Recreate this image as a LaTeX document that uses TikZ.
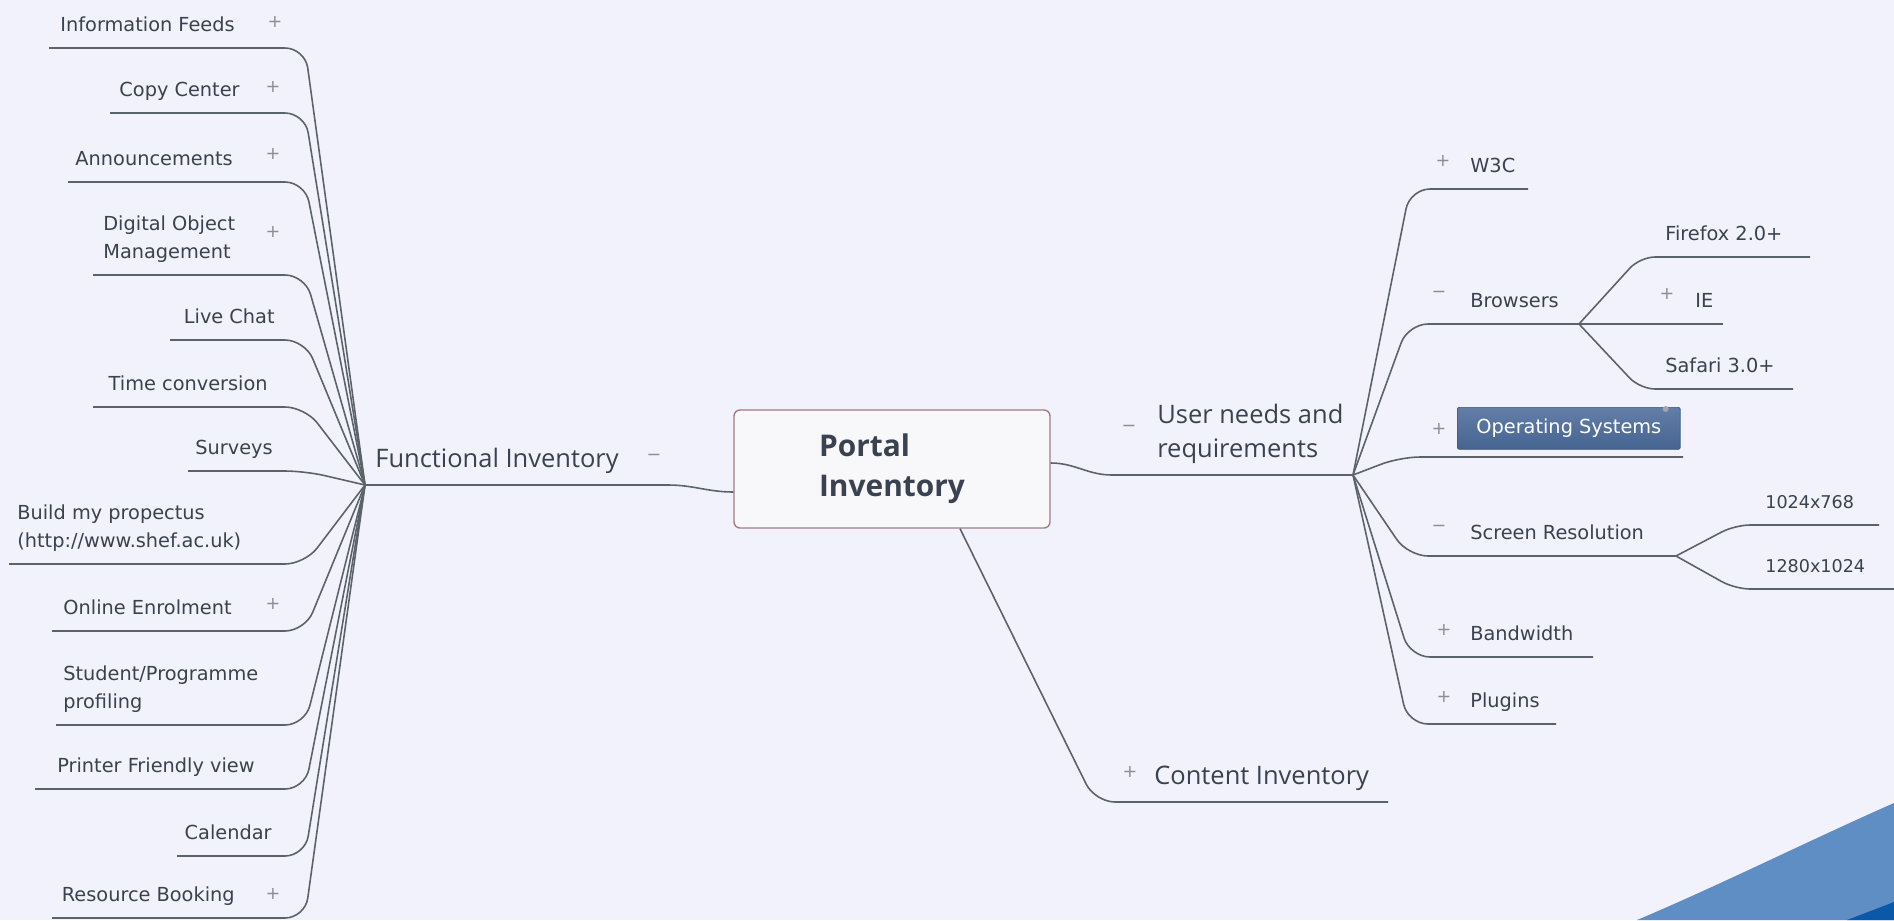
\documentclass[tikz,border=0pt]{standalone}
\usepackage{fontspec}
\setmainfont{DejaVu Sans}
\newfontfamily\headfont{Open Sans}
\usetikzlibrary{calc,shadings}
\definecolor{bgcol}{RGB}{241,242,251}
\definecolor{ink}{RGB}{58,65,80}
\definecolor{wire}{RGB}{92,98,106}
\definecolor{signcol}{RGB}{140,142,150}
\definecolor{corerim}{RGB}{160,124,132}
\definecolor{corefill}{RGB}{248,248,250}
\definecolor{osblue}{RGB}{70,100,145}
\definecolor{ostop}{RGB}{98,126,168}
\definecolor{swoosh}{RGB}{95,142,197}
\definecolor{swooshdark}{RGB}{10,88,168}
\begin{document}
\begin{tikzpicture}[x=0.02cm,y=-0.02cm,
    leaf/.style={font=\fontsize{11}{16}\selectfont,text=ink,inner sep=0pt,text depth=0.25em,align=left},
    small/.style={leaf,font=\fontsize{10}{14}\selectfont},
    head/.style={font=\headfont\fontsize{14.5}{19}\selectfont,text=ink,inner sep=0pt,text depth=0.25em,align=left},
    sign/.style={font=\fontsize{10}{10}\selectfont,text=signcol,inner sep=0pt},
    branch/.style={draw=wire,line width=0.9pt,rounded corners=0.4cm},
    core/.style={draw=corerim,line width=0.8pt,fill=corefill,rounded corners=0.12cm,minimum width=6.32cm,minimum height=2.36cm,align=left,font=\headfont\bfseries\fontsize{17}{23}\selectfont,text=ink},
    osbox/.style={top color=ostop,bottom color=osblue,draw=osblue!85!black,line width=0.4pt,rounded corners=0.04cm,minimum width=4.46cm,minimum height=0.84cm,inner sep=0pt,text=white,font=\fontsize{11}{14}\selectfont}]
    \fill[bgcol] (0,0) rectangle (1894,920);
    \useasboundingbox (0,0) rectangle (1894,920);
    \fill[swoosh] (1637,920) .. controls (1720,885) and (1810,840) .. (1894,803) -- (1894,920) -- cycle;
    \fill[swooshdark] (1847,920) -- (1894,902) -- (1894,920) -- cycle;

    \node[core] (core) at (892,469) {Portal\\Inventory};
    \coordinate (core-l) at ($(core.west)+(0,23)$);
    \coordinate (core-r) at ($(core.east)+(0,-6)$);
    \coordinate (core-b) at ($(core.south)+(68,0)$);
    \coordinate (hubL) at (365,485);
    \coordinate (hubR) at (1353,475);

    \node[head,anchor=south west] (fi) at (375,472) {Functional Inventory};
    \node[sign] (fi-s) at (654,457) {−};
    \coordinate (fi-r) at (668,485);
    \draw[branch,sharp corners] (hubL) -- (fi-r) to[out=0,in=180] (core-l);

    \node[leaf,anchor=south east] (feeds) at (235,36) {Information Feeds};
    \node[sign] (feeds-s) at (275,22) {+};
    \coordinate (feeds-l) at (49,48);
    \coordinate (feeds-c) at (305,48);
    \draw[branch] (feeds-l) -- (feeds-c) -- (hubL);

    \node[leaf,anchor=south east] (copy) at (240,101) {Copy Center};
    \node[sign] (copy-s) at (273,87) {+};
    \coordinate (copy-l) at (110,113);
    \coordinate (copy-c) at (305,113);
    \draw[branch] (copy-l) -- (copy-c) -- (hubL);

    \node[leaf,anchor=south east] (ann) at (233,170) {Announcements};
    \node[sign] (ann-s) at (273,154) {+};
    \coordinate (ann-l) at (68,182);
    \coordinate (ann-c) at (305,182);
    \draw[branch] (ann-l) -- (ann-c) -- (hubL);

    \node[leaf,anchor=south west] (dom) at (103,263) {Digital Object\\Management};
    \node[sign] (dom-s) at (273,232) {+};
    \coordinate (dom-l) at (93,275);
    \coordinate (dom-c) at (305,275);
    \draw[branch] (dom-l) -- (dom-c) -- (hubL);

    \node[leaf,anchor=south east] (chat) at (275,328) {Live Chat};
    \coordinate (chat-l) at (170,340);
    \coordinate (chat-c) at (305,340);
    \draw[branch] (chat-l) -- (chat-c) -- (hubL);

    \node[leaf,anchor=south east] (time) at (268,395) {Time conversion};
    \coordinate (time-l) at (93,407);
    \coordinate (time-c) at (305,407);
    \draw[branch] (time-l) -- (time-c) -- (hubL);

    \node[leaf,anchor=south east] (surv) at (273,459) {Surveys};
    \coordinate (surv-l) at (188,471);
    \coordinate (surv-c) at (305,471);
    \draw[branch] (surv-l) -- (surv-c) -- (hubL);

    \node[leaf,anchor=south west] (prosp) at (17,552) {Build my propectus\\(http://www.shef.ac.uk)};
    \coordinate (prosp-l) at (9,564);
    \coordinate (prosp-c) at (305,564);
    \draw[branch] (prosp-l) -- (prosp-c) -- (hubL);

    \node[leaf,anchor=south east] (enrol) at (232,619) {Online Enrolment};
    \node[sign] (enrol-s) at (273,604) {+};
    \coordinate (enrol-l) at (52,631);
    \coordinate (enrol-c) at (305,631);
    \draw[branch] (enrol-l) -- (enrol-c) -- (hubL);

    \node[leaf,anchor=south west] (prof) at (63,713) {Student/Programme\\profiling};
    \coordinate (prof-l) at (56,725);
    \coordinate (prof-c) at (305,725);
    \draw[branch] (prof-l) -- (prof-c) -- (hubL);

    \node[leaf,anchor=south east] (print) at (255,777) {Printer Friendly view};
    \coordinate (print-l) at (35,789);
    \coordinate (print-c) at (305,789);
    \draw[branch] (print-l) -- (print-c) -- (hubL);

    \node[leaf,anchor=south east] (cal) at (272,844) {Calendar};
    \coordinate (cal-l) at (177,856);
    \coordinate (cal-c) at (305,856);
    \draw[branch] (cal-l) -- (cal-c) -- (hubL);

    \node[leaf,anchor=south east] (res) at (235,906) {Resource Booking};
    \node[sign] (res-s) at (273,894) {+};
    \coordinate (res-l) at (52,918);
    \coordinate (res-c) at (305,918);
    \draw[branch] (res-l) -- (res-c) -- (hubL);

    \node[head,anchor=south west] (needs) at (1157,462) {User needs and\\requirements};
    \node[sign] (needs-s) at (1129,428) {−};
    \coordinate (needs-l) at (1112,475);
    \draw[branch,sharp corners] (core-r) to[out=0,in=180] (needs-l) -- (hubR);

    \node[leaf,anchor=south west] (w3c) at (1470,177) {W3C};
    \node[sign] (w3c-s) at (1443,161) {+};
    \coordinate (w3c-c) at (1410,189);
    \coordinate (w3c-r) at (1528,189);
    \draw[branch] (hubR) -- (w3c-c) -- (w3c-r);

    \node[leaf,anchor=south west] (brow) at (1470,312) {Browsers};
    \node[sign] (brow-s) at (1439,294) {−};
    \coordinate (brow-c) at (1408,324);
    \coordinate (bhub) at (1579,324);
    \draw[branch] (hubR) -- (brow-c) -- (bhub);

    \node[leaf,anchor=south west] (fox) at (1665,245) {Firefox 2.0+};
    \coordinate (fox-c) at (1640,257);
    \coordinate (fox-r) at (1810,257);
    \draw[branch,rounded corners=0.3cm] (bhub) -- (fox-c) -- (fox-r);

    \node[leaf,anchor=south west] (ie) at (1695,312) {IE};
    \node[sign] (ie-s) at (1667,294) {+};
    \coordinate (ie-r) at (1723,324);
    \draw[branch] (bhub) -- (ie-r);

    \node[leaf,anchor=south west] (saf) at (1665,377) {Safari 3.0+};
    \coordinate (saf-c) at (1640,389);
    \coordinate (saf-r) at (1793,389);
    \draw[branch,rounded corners=0.3cm] (bhub) -- (saf-c) -- (saf-r);

    \node[osbox,anchor=north west] (os) at (1457,407) {Operating Systems};
    \node[circle,fill=signcol!80,inner sep=0pt,minimum size=3.4pt] (os-dot) at ($(os.north east)+(-15,2)$) {};
    \node[sign] (os-s) at (1439,429) {+};
    \coordinate (os-c) at (1400,457);
    \coordinate (os-r) at (1683,457);
    \draw[branch] (hubR) -- (os-c) -- (os-r);

    \node[leaf,anchor=south west] (scr) at (1470,544) {Screen Resolution};
    \node[sign] (scr-s) at (1439,528) {−};
    \coordinate (scr-c) at (1408,556);
    \coordinate (shub) at (1676,556);
    \draw[branch] (hubR) -- (scr-c) -- (shub);

    \node[small,anchor=south west] (lo) at (1765,513) {1024x768};
    \coordinate (lo-c) at (1735,525);
    \coordinate (lo-r) at (1879,525);
    \draw[branch,rounded corners=0.3cm] (shub) -- (lo-c) -- (lo-r);

    \node[small,anchor=south west] (hi) at (1765,577) {1280x1024};
    \coordinate (hi-c) at (1735,589);
    \coordinate (hi-r) at (1894,589);
    \draw[branch,rounded corners=0.3cm] (shub) -- (hi-c) -- (hi-r);

    \node[leaf,anchor=south west] (band) at (1470,645) {Bandwidth};
    \node[sign] (band-s) at (1444,630) {+};
    \coordinate (band-c) at (1410,657);
    \coordinate (band-r) at (1593,657);
    \draw[branch] (hubR) -- (band-c) -- (band-r);

    \node[leaf,anchor=south west] (plug) at (1470,712) {Plugins};
    \node[sign] (plug-s) at (1444,697) {+};
    \coordinate (plug-c) at (1408,724);
    \coordinate (plug-r) at (1556,724);
    \draw[branch] (hubR) -- (plug-c) -- (plug-r);

    \node[head,anchor=south west] (ci) at (1154,789) {Content Inventory};
    \node[sign] (ci-s) at (1130,772) {+};
    \coordinate (ci-c) at (1095,802);
    \coordinate (ci-r) at (1388,802);
    \draw[branch] (core-b) -- (ci-c) -- (ci-r);
\end{tikzpicture}
\end{document}
